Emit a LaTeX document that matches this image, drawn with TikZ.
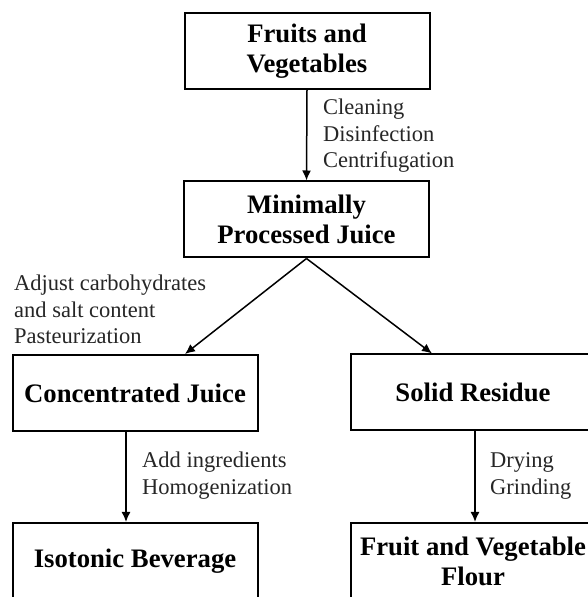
\documentclass[tikz,border=0pt]{standalone}
\usepackage{fontspec}
\setmainfont{Liberation Serif}
\usetikzlibrary{arrows.meta}
\begin{document}
\begin{tikzpicture}[x=1pt,y=1pt,
  box/.style={draw=black,line width=2pt,minimum width=245pt,minimum height=76pt,
    align=center,inner sep=0pt,font=\bfseries\fontsize{26.7}{30}\selectfont},
  lbl/.style={anchor=base west,inner sep=0pt,text=black!85,font=\fontsize{22.5}{26.5}\selectfont},
  flow/.style={line width=1.5pt,-{Latex[length=10pt,width=9pt]}}]
\useasboundingbox (0,0) rectangle (588,597);
\clip (0,0) rectangle (588,597);
\node[box] (fv) at (307,546) {Fruits and\\Vegetables};
\node[box] (mpj) at (306.5,377.5) {Minimally\\Processed Juice};
\node[box] (cj) at (135,204) {Concentrated Juice};
\node[box] (sr) at (473,204.5) {Solid Residue};
\node[box] (ib) at (135,36) {Isotonic Beverage};
\node[box] (ff) at (473,36) {Fruit and Vegetable\\Flour};
\draw[flow] (fv.south) -- (mpj.north);
\draw[flow] (mpj.south) -- ([xshift=50pt]cj.north);
\draw[flow] (mpj.south) -- ([xshift=-41pt]sr.north);
\draw[flow] ([xshift=-9pt]cj.south) -- ([xshift=-9pt]ib.north);
\draw[flow] ([xshift=2pt]sr.south) -- ([xshift=2pt]ff.north);
\node[lbl] (l1) at (323,482) {\begin{tabular}[t]{@{}l@{}}Cleaning\\Disinfection\\Centrifugation\end{tabular}};
\node[lbl] (l2) at (14,306) {\begin{tabular}[t]{@{}l@{}}Adjust carbohydrates\\and salt content\\Pasteurization\end{tabular}};
\node[lbl] (l3) at (142,129) {\begin{tabular}[t]{@{}l@{}}Add ingredients\\Homogenization\end{tabular}};
\node[lbl] (l4) at (490,129) {\begin{tabular}[t]{@{}l@{}}Drying\\Grinding\end{tabular}};
\end{tikzpicture}
\end{document}
